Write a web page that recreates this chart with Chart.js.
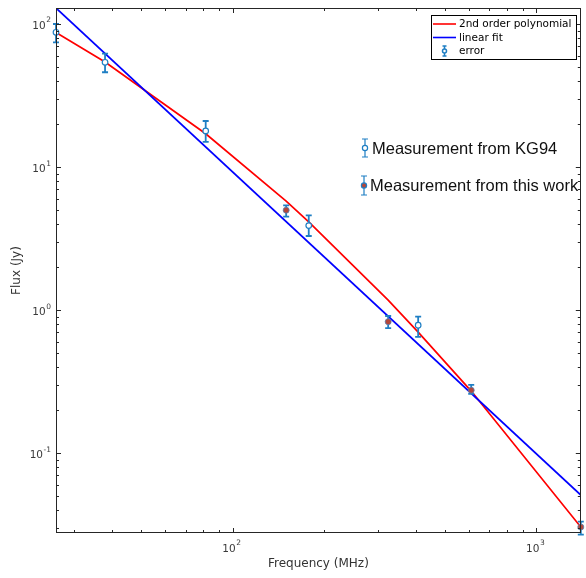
<!DOCTYPE html>
<html lang="en">
<head>
<meta charset="UTF-8" />
<title>Flux spectrum</title>
<script src="https://cdn.jsdelivr.net/npm/chart.js"></script>
<style>
  html, body { margin: 0; padding: 0; background: #fff; }
  #wrap { position: relative; width: 586px; height: 578px; }
</style>
</head>
<body>
<div id="wrap"><canvas id="fluxChart" width="586" height="578"></canvas></div>
<script>
// measurements from KG94 (open markers)
const kgFreq = [26.2, 38, 81.5, 178, 408];
const kgFlux = [87.5, 54, 17.9, 3.9, 0.785];
const kgLow = [74.5, 46, 15, 3.3, 0.65];
const kgHigh = [100, 62, 21, 4.6, 0.9];

// measurements from this work (filled markers)
const workFreq = [150, 325, 610, 1400];
const workFlux = [5.0, 0.83, 0.276, 0.0305];
const workLow = [4.5, 0.75, 0.26, 0.027];
const workHigh = [5.4, 0.91, 0.30, 0.0333];

// fits
const polyFreq = [26.2, 38, 81.5, 150, 178, 325, 408, 610, 1400];
const polyFlux = [87.1, 54.2, 17.1, 5.78, 4.14, 1.175, 0.703, 0.272, 0.0305];
const linFreq = [26.2, 1400];
const linFlux = [129.4, 0.051];

const xTicks = [100, 1000];
const yTicks = [0.1, 1, 10, 100];
const tickExp = { 0.1: '-1', 1: '0', 10: '1', 100: '2', 1000: '3' };

const toPoints = (xs, ys) => xs.map((x, i) => ({ x: x, y: ys[i] }));

const errColor = '#1f7fc4';
const axisColor = '#262626';
const labelColor = '#3a3a3a';

Chart.defaults.font.family = 'DejaVu Sans';

function drawErrBar(ctx, x, yHi, yLo, cap) {
  ctx.beginPath();
  ctx.moveTo(x, yHi); ctx.lineTo(x, yLo);
  ctx.moveTo(x - cap, yHi); ctx.lineTo(x + cap, yHi);
  ctx.moveTo(x - cap, yLo); ctx.lineTo(x + cap, yLo);
  ctx.stroke();
}

// "10" with a raised exponent, anchored by alignment
function drawPow(ctx, exp, x, y, align) {
  ctx.font = '10.5px "DejaVu Sans"';
  const wb = ctx.measureText('10').width;
  ctx.font = '7.5px "DejaVu Sans"';
  const we = ctx.measureText(exp).width;
  const total = wb + 0.5 + we;
  let x0 = align === 'right' ? x - total : x - total / 2;
  ctx.textAlign = 'left';
  ctx.textBaseline = 'middle';
  ctx.font = '10.5px "DejaVu Sans"';
  ctx.fillText('10', x0, y + 2);
  ctx.font = '7.5px "DejaVu Sans"';
  ctx.fillText(exp, x0 + wb + 0.5, y - 3.5);
}

const errorBars = {
  id: 'errorBars',
  beforeDatasetDraw(chart, args) {
    const ds = chart.data.datasets[args.index];
    if (!ds.errLow) return;
    const ctx = chart.ctx;
    const xs = chart.scales.x, ys = chart.scales.y;
    ctx.save();
    ctx.strokeStyle = errColor;
    ctx.lineWidth = 1.8;
    ds.data.forEach((p, i) => {
      const px = xs.getPixelForValue(p.x);
      drawErrBar(ctx, px, ys.getPixelForValue(ds.errHigh[i]), ys.getPixelForValue(ds.errLow[i]), 3);
    });
    ctx.restore();
  }
};

const frame = {
  id: 'frame',
  afterDraw(chart) {
    const ctx = chart.ctx;
    const a = chart.chartArea;
    const xs = chart.scales.x, ys = chart.scales.y;
    ctx.save();
    ctx.strokeStyle = axisColor;
    ctx.lineWidth = 1;
    ctx.strokeRect(Math.round(a.left) + 0.5, Math.round(a.top) + 0.5,
      Math.round(a.right - a.left) - 1, Math.round(a.bottom - a.top) - 1);

    // inward ticks on all four sides
    ctx.beginPath();
    for (let d = 10; d <= 1000; d *= 10) {
      for (let m = 1; m <= 9; m++) {
        const v = d * m;
        if (v < xs.min || v > xs.max) continue;
        const len = m === 1 ? 5 : 3;
        const px = Math.round(xs.getPixelForValue(v)) + 0.5;
        ctx.moveTo(px, a.bottom); ctx.lineTo(px, a.bottom - len);
        ctx.moveTo(px, a.top); ctx.lineTo(px, a.top + len);
      }
    }
    for (let d = 0.01; d <= 100; d *= 10) {
      for (let m = 1; m <= 9; m++) {
        const v = d * m;
        if (v < ys.min || v > ys.max) continue;
        const len = m === 1 ? 5 : 3;
        const py = Math.round(ys.getPixelForValue(v)) + 0.5;
        ctx.moveTo(a.left, py); ctx.lineTo(a.left + len, py);
        ctx.moveTo(a.right, py); ctx.lineTo(a.right - len, py);
      }
    }
    ctx.stroke();

    // tick labels with superscript exponents
    ctx.fillStyle = labelColor;
    xs.ticks.forEach(t => drawPow(ctx, tickExp[t.value], xs.getPixelForValue(t.value) - 1, a.bottom + 14, 'center'));
    ys.ticks.forEach(t => drawPow(ctx, tickExp[t.value], a.left - 5, ys.getPixelForValue(t.value), 'right'));

    // legend box
    const lx = 431, ly = 15, lw = 145, lh = 44;
    ctx.fillStyle = '#fff';
    ctx.fillRect(lx, ly, lw, lh);
    ctx.strokeStyle = '#000';
    ctx.lineWidth = 1;
    ctx.strokeRect(lx + 0.5, ly + 0.5, lw, lh);
    ctx.font = '10.5px "DejaVu Sans"';
    ctx.textAlign = 'left';
    ctx.textBaseline = 'middle';
    ctx.fillStyle = '#000';
    const rows = [
      { y: 24, color: '#ff0000', text: chart.data.datasets[0].label },
      { y: 37.5, color: '#0000ff', text: chart.data.datasets[1].label },
      { y: 51, color: null, text: 'error' }
    ];
    rows.forEach(r => {
      if (r.color) {
        ctx.strokeStyle = r.color;
        ctx.lineWidth = 1.6;
        ctx.beginPath();
        ctx.moveTo(433, r.y); ctx.lineTo(456, r.y);
        ctx.stroke();
      } else {
        ctx.strokeStyle = errColor;
        ctx.lineWidth = 1.5;
        drawErrBar(ctx, 444.5, r.y - 5, r.y + 5, 2);
        ctx.beginPath();
        ctx.arc(444.5, r.y, 2, 0, Math.PI * 2);
        ctx.fillStyle = '#fff';
        ctx.fill();
        ctx.stroke();
        ctx.fillStyle = '#000';
      }
      ctx.fillText(r.text, 459, r.y + 0.5);
    });

    // text annotations
    const notes = [
      { x: 365, y: 148, top: 139, bot: 157, fill: '#fff', text: 'Measurement from KG94', tx: 372 },
      { x: 364, y: 185.5, top: 176, bot: 195, fill: '#b4463a', text: 'Measurement from this work', tx: 370 }
    ];
    ctx.font = '16.5px "Liberation Sans"';
    ctx.textBaseline = 'alphabetic';
    notes.forEach(n => {
      ctx.strokeStyle = errColor;
      ctx.lineWidth = 1.2;
      drawErrBar(ctx, n.x, n.top, n.bot, 3);
      ctx.beginPath();
      ctx.arc(n.x, n.y, 2.6, 0, Math.PI * 2);
      ctx.fillStyle = n.fill;
      ctx.fill();
      ctx.stroke();
      ctx.fillStyle = '#111';
      ctx.fillText(n.text, n.tx, n.y + 5.5);
    });
    ctx.restore();
  }
};

new Chart(document.getElementById('fluxChart'), {
  type: 'scatter',
  data: {
    datasets: [
      {
        label: '2nd order polynomial',
        data: toPoints(polyFreq, polyFlux),
        showLine: true,
        borderColor: '#ff0000',
        borderWidth: 1.7,
        pointRadius: 0,
        order: 3
      },
      {
        label: 'linear fit',
        data: toPoints(linFreq, linFlux),
        showLine: true,
        borderColor: '#0000ff',
        borderWidth: 1.7,
        pointRadius: 0,
        order: 2
      },
      {
        label: 'KG94',
        data: toPoints(kgFreq, kgFlux),
        errLow: kgLow,
        errHigh: kgHigh,
        pointRadius: 2.8,
        backgroundColor: '#ffffff',
        borderColor: errColor,
        borderWidth: 1.2,
        clip: false,
        order: 1
      },
      {
        label: 'this work',
        data: toPoints(workFreq, workFlux),
        errLow: workLow,
        errHigh: workHigh,
        pointRadius: 3,
        backgroundColor: '#b4463a',
        borderColor: '#5a7fae',
        borderWidth: 0.8,
        clip: false,
        order: 0
      }
    ]
  },
  options: {
    responsive: false,
    animation: false,
    layout: { padding: { top: 8, right: 1, left: 0, bottom: 0 } },
    plugins: {
      legend: { display: false },
      tooltip: { enabled: false }
    },
    scales: {
      x: {
        type: 'logarithmic',
        min: 26.2,
        max: 1400,
        afterBuildTicks: s => { s.ticks = xTicks.map(v => ({ value: v })); },
        afterFit: s => { s.height = 45; },
        grid: { display: false },
        border: { display: false },
        ticks: { display: false },
        title: {
          display: true,
          text: 'Frequency (MHz)',
          color: '#333',
          font: { size: 12 },
          padding: { top: 0, bottom: 7 }
        }
      },
      y: {
        type: 'logarithmic',
        min: 0.0277,
        max: 129.4,
        afterBuildTicks: s => { s.ticks = yTicks.map(v => ({ value: v })); },
        afterFit: s => { s.width = 56; },
        grid: { display: false },
        border: { display: false },
        ticks: { display: false },
        title: {
          display: true,
          text: 'Flux (Jy)',
          color: '#333',
          font: { size: 12 },
          padding: { top: 10, bottom: 0 }
        }
      }
    }
  },
  plugins: [errorBars, frame]
});
</script>
</body>
</html>
